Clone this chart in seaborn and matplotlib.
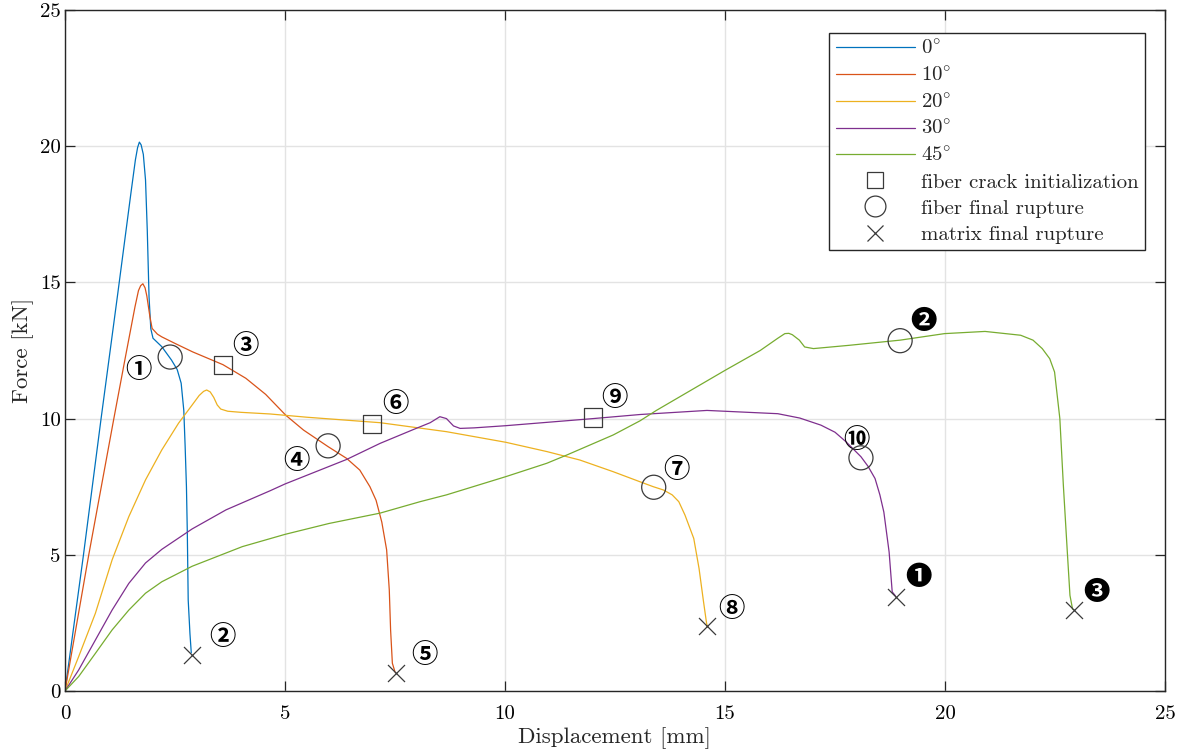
import numpy as np
import pandas as pd
import matplotlib
matplotlib.use("Agg")
import matplotlib.pyplot as plt
import seaborn as sns
from matplotlib.lines import Line2D

# ---------------- data ----------------
blue_x = [0, 0.42, 0.82, 1.2, 1.5, 1.6, 1.65, 1.69, 1.73, 1.78, 1.83, 1.87, 1.91, 1.95, 2.0,
          2.2, 2.42, 2.55, 2.64, 2.7, 2.73, 2.76, 2.78, 2.8, 2.84, 2.87]
blue_y = [0, 5.0, 10.0, 14.6, 18.3, 19.5, 19.95, 20.15, 20.05, 19.7, 18.76, 16.9, 14.47, 13.3,
          12.95, 12.64, 12.15, 11.8, 11.3, 10.3, 9.0, 7.5, 5.8, 3.34, 2.1, 1.4]

red_x = [0, 0.54, 1.11, 1.36, 1.59, 1.67, 1.72, 1.77, 1.82, 1.86, 1.93, 1.98, 2.1, 2.2, 2.5,
         2.9, 3.59, 4.11, 4.56, 5.02, 5.42, 5.98, 6.4, 6.7, 6.93, 7.07, 7.2, 7.31, 7.37, 7.4,
         7.44, 7.5]
red_y = [0, 5.0, 10.0, 12.15, 14.1, 14.7, 14.88, 14.95, 14.8, 14.5, 13.74, 13.31, 13.1, 13.0,
         12.76, 12.45, 11.98, 11.48, 10.89, 10.12, 9.58, 8.97, 8.54, 8.11, 7.5, 7.0, 6.2, 5.18,
         3.71, 2.24, 1.02, 0.7]

yellow_x = [0, 0.31, 0.69, 1.07, 1.45, 1.83, 2.2, 2.58, 2.89, 3.05, 3.15, 3.22, 3.3, 3.38, 3.46,
            3.54, 3.7, 4.0, 4.66, 5.5, 7.16, 8.67, 10.02, 10.95, 11.7, 12.46, 13.07, 13.37,
            13.6, 13.8, 13.95, 14.09, 14.29, 14.41, 14.51, 14.58, 14.6]
yellow_y = [0, 1.26, 2.85, 4.81, 6.4, 7.75, 8.85, 9.83, 10.5, 10.85, 11.0, 11.05, 10.98, 10.78,
            10.5, 10.35, 10.27, 10.23, 10.17, 10.05, 9.85, 9.52, 9.13, 8.79, 8.48, 8.05, 7.68,
            7.5, 7.38, 7.2, 6.95, 6.46, 5.6, 4.5, 3.3, 2.5, 2.35]

purple_x = [0, 0.31, 0.69, 1.07, 1.45, 1.83, 2.2, 2.89, 3.66, 4.66, 5.0, 6.4, 7.16, 7.92, 8.3,
            8.52, 8.67, 8.83, 8.98, 9.3, 10.02, 12.0, 13.07, 14.59, 16.2, 16.7, 17.18, 17.5,
            17.75, 18.09, 18.25, 18.41, 18.52, 18.61, 18.73, 18.8, 18.87]
purple_y = [0, 0.77, 1.87, 2.97, 3.95, 4.7, 5.2, 5.95, 6.65, 7.35, 7.6, 8.5, 9.09, 9.6, 9.85,
            10.07, 10.0, 9.73, 9.64, 9.66, 9.74, 10.0, 10.15, 10.3, 10.18, 10.02, 9.76, 9.5,
            9.15, 8.6, 8.25, 7.8, 7.2, 6.57, 5.1, 3.64, 3.5]

green_x = [0, 0.31, 0.69, 1.07, 1.45, 1.83, 2.2, 2.89, 4.03, 5.0, 6.0, 7.16, 8.07, 8.67, 10.02,
           10.95, 11.4, 12.46, 13.07, 13.44, 15.0, 15.8, 16.2, 16.36, 16.45, 16.53, 16.69,
           16.81, 17.01, 17.82, 18.98, 19.99, 20.91, 21.72, 22.0, 22.21, 22.38, 22.49, 22.61,
           22.69, 22.78, 22.84, 22.9]
green_y = [0, 0.53, 1.38, 2.24, 2.97, 3.59, 4.01, 4.58, 5.3, 5.75, 6.15, 6.53, 6.95, 7.2, 7.87,
           8.36, 8.66, 9.4, 9.92, 10.3, 11.77, 12.5, 12.95, 13.12, 13.13, 13.08, 12.88, 12.63,
           12.57, 12.69, 12.88, 13.12, 13.2, 13.06, 12.88, 12.57, 12.2, 11.71, 10.0, 7.55, 5.1,
           3.51, 3.0]

series_labels = ["0°", "10°", "20°", "30°", "45°"]
series_colors = ["#0072BD", "#D95319", "#EDB120", "#7E2F8E", "#77AC30"]

sq_x = [3.59, 6.98, 12.0]
sq_y = [11.97, 9.81, 10.04]
circ_x = [2.39, 5.98, 13.38, 18.09, 18.98]
circ_y = [12.26, 9.0, 7.48, 8.56, 12.86]
cross_x = [2.89, 7.52, 14.6, 18.89, 22.94]
cross_y = [1.32, 0.65, 2.38, 3.45, 2.96]

ann_text = ["①", "②", "③", "④", "⑤", "⑥", "⑦", "⑧", "⑨", "⑩", "❶", "❷", "❸"]
ann_x = [1.66, 3.57, 4.11, 5.27, 8.18, 7.52, 13.9, 15.14, 12.48, 17.98, 19.39, 19.5, 23.45]
ann_y = [11.75, 1.98, 12.66, 8.44, 1.32, 10.5, 8.11, 3.0, 10.72, 9.21, 4.15, 13.55, 3.63]

x_ticks = [0, 5, 10, 15, 20, 25]
y_ticks = [0, 5, 10, 15, 20, 25]

# ---------------- style ----------------
sns.set_theme(style="whitegrid")
plt.rcParams.update({
    "font.family": ["cmr10", "DejaVu Serif"],
    "mathtext.fontset": "cm",
    "axes.formatter.use_mathtext": True,
    "axes.unicode_minus": False,
})

fig = plt.figure(figsize=(11.88, 7.53), dpi=100)
ax = fig.add_axes([65 / 1188, 1 - 691 / 753, 1100 / 1188, 681 / 753])
ax.set_facecolor("white")

frames = []
for xs, ys, lab in zip([blue_x, red_x, yellow_x, purple_x, green_x],
                       [blue_y, red_y, yellow_y, purple_y, green_y], series_labels):
    frames.append(pd.DataFrame({"x": xs, "y": ys, "s": lab}))
df = pd.concat(frames, ignore_index=True)

for lab, col in zip(series_labels, series_colors):
    sub = df[df["s"] == lab]
    sns.lineplot(data=sub, x="x", y="y", sort=False, estimator=None, color=col,
                 linewidth=0.9, ax=ax, legend=False)

mk_col = "#3a3a3a"
sns.scatterplot(x=sq_x, y=sq_y, marker="s", s=170, facecolors="none", edgecolor=mk_col,
                linewidth=0.9, ax=ax, legend=False, zorder=5)
sns.scatterplot(x=circ_x, y=circ_y, marker="o", s=300, facecolors="none", edgecolor=mk_col,
                linewidth=0.9, ax=ax, legend=False, zorder=5)
sns.scatterplot(x=cross_x, y=cross_y, marker="x", s=150, color=mk_col,
                linewidth=0.9, ax=ax, legend=False, zorder=5)

for t, xx, yy in zip(ann_text, ann_x, ann_y):
    ax.text(xx, yy, t, ha="center", va="center", fontsize=19, color="black",
            fontweight="bold", family=["Noto Sans CJK JP", "DejaVu Sans"])

ax.set_xlim(0, 25)
ax.set_ylim(0, 25)
ax.set_xticks(x_ticks)
ax.set_yticks(y_ticks)
ax.set_xticklabels([str(v) for v in x_ticks])
ax.set_yticklabels([str(v) for v in y_ticks])
ax.grid(True, color="#e3e3e3", linewidth=1.0)
for sp in ax.spines.values():
    sp.set_color("#262626")
    sp.set_linewidth(1.0)
    sp.set_visible(True)
ax.tick_params(direction="in", length=7, width=0.9, colors="#262626", labelsize=15,
               top=True, right=True, bottom=True, left=True, pad=3)
ax.tick_params(axis="x", pad=10)
for lbl in ax.get_xticklabels() + ax.get_yticklabels():
    lbl.set_color("black")

ax.set_xlabel("Displacement [mm]", fontsize=16.5, labelpad=3)
ax.set_ylabel("Force [kN]", fontsize=16.5, labelpad=4)

handles = [Line2D([], [], color=c, linewidth=0.9,
                  label="$" + l.replace("°", "") + r"^{\circ}$")
           for c, l in zip(series_colors, series_labels)]
handles += [
    Line2D([], [], linestyle="none", marker="s", markersize=12, markerfacecolor="none",
           markeredgecolor=mk_col, markeredgewidth=0.9, label="fiber crack initialization"),
    Line2D([], [], linestyle="none", marker="o", markersize=15, markerfacecolor="none",
           markeredgecolor=mk_col, markeredgewidth=0.9, label="fiber final rupture"),
    Line2D([], [], linestyle="none", marker="x", markersize=12,
           markeredgecolor=mk_col, markeredgewidth=0.9, label="matrix final rupture"),
]
leg = ax.legend(handles=handles, loc="upper right", bbox_to_anchor=(1145 / 1188, 1 - 33 / 753),
                bbox_transform=fig.transFigure, fontsize=15, frameon=True, fancybox=False,
                framealpha=1, edgecolor="#262626", handlelength=3.8, handletextpad=0.3,
                labelspacing=0.36, borderpad=0.3, borderaxespad=0)
leg.get_frame().set_linewidth(1.0)

fig.savefig("out.png", dpi=100)
